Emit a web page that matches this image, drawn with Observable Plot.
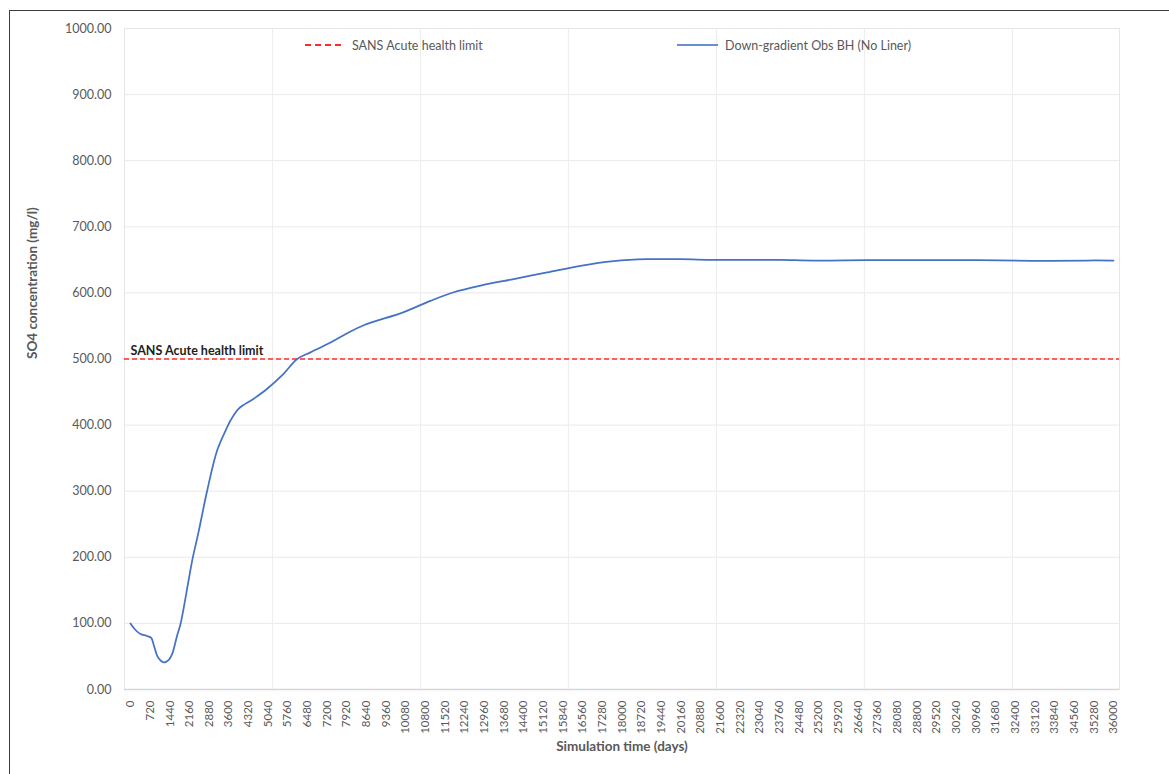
<!DOCTYPE html>
<html>
<head>
<meta charset="utf-8">
<script src="https://cdn.jsdelivr.net/npm/d3@7"></script>
<script src="https://cdn.jsdelivr.net/npm/@observablehq/plot@0.6"></script>
<style>
  html, body { margin: 0; padding: 0; background: #fff; }
  #wrap { position: relative; width: 1169px; height: 774px; overflow: hidden; font-family: Lato, "Open Sans", sans-serif; }
  #border { position: absolute; left: 9px; top: 10px; width: 1200px; height: 800px; border-left: 1.5px solid #3c3c3c; border-top: 1.5px solid #3c3c3c; pointer-events: none; }
  .leg { position: absolute; top: 37px; height: 16px; display: flex; align-items: center; font-size: 12.5px; color: #595959; white-space: nowrap; }
  .leg svg { display: block; }
  .leg span { margin-left: 7px; }
</style>
</head>
<body>
<div id="wrap">
  <div id="chart"></div>
  <div id="border"></div>
  <div id="legend"></div>
</div>
<script>
// ---- Data ----
const seriesName = "Down-gradient Obs BH (No Liner)";
const limitName = "SANS Acute health limit";
const limitValue = 500;

const days = [0, 183, 366, 612, 758, 853, 978, 1099, 1219, 1403, 1527, 1710, 1831, 2135, 2259, 2501, 2809, 3175, 3541, 3662, 3966, 4515, 5006, 5614, 6105, 6592, 7324, 7936, 8543, 10008, 10986, 11839, 12817, 14036, 15260, 16479, 17698, 18922, 20141, 21361, 22500, 23803, 25000, 27000, 29000, 31000, 33000, 35000, 36000];
const so4 = [100, 90, 84, 81, 78, 67, 51, 44, 41, 45, 54, 82, 99, 167, 195, 240, 301, 362, 397, 407, 425, 440, 455, 478, 500, 510, 525, 539, 551, 571, 588, 601, 611, 621, 631, 641, 648, 651, 651, 650, 650, 650, 649, 649.5, 649.5, 649.5, 648.5, 649, 649];

const xTickLabels = d3.range(0, 36001, 720);
const yTickLabels = d3.range(0, 1001, 100);
const vGridDays = [5200, 10620, 16040, 21460, 26880, 32300];

const xTitle = "Simulation time (days)";
const yTitle = "SO4 concentration (mg/l)";

// ---- Build ----
const data = days.map((d, i) => ({day: d, so4: so4[i]}));
const blue = "#4472C4";
const red = "#ff2b2b";

const chart = Plot.plot({
  width: 1169,
  height: 774,
  marginLeft: 124,
  marginRight: 50,
  marginTop: 28,
  marginBottom: 85,
  style: {fontFamily: "Lato, 'Open Sans', sans-serif", color: "#595959", background: "transparent", overflow: "visible"},
  x: {domain: [-220, 36220]},
  y: {domain: [0, 1000]},
  marks: [
    Plot.ruleY(yTickLabels, {stroke: "#e9e9e9", strokeWidth: 1}),
    Plot.ruleX(vGridDays, {stroke: "#efefef", strokeWidth: 1.2}),
    Plot.frame({stroke: "#e6e6e6"}),
    Plot.ruleY([0], {stroke: "#d6d6d6", strokeWidth: 1.5}),
    Plot.axisY({ticks: yTickLabels, tickFormat: d3.format(".2f"), tickSize: 0, tickPadding: 13, fontSize: 12.5, label: null}),
    Plot.axisX({ticks: xTickLabels, tickFormat: d => String(d), tickRotate: -90, tickSize: 0, tickPadding: 11, fontSize: 11.5, label: null}),
    Plot.ruleY([limitValue], {stroke: red, strokeWidth: 1.5, strokeDasharray: "5,3"}),
    Plot.line(data, {x: "day", y: "so4", stroke: blue, strokeWidth: 1.75, curve: "catmull-rom"}),
    Plot.text([{day: days[0], v: limitValue, t: limitName}], {x: "day", y: "v", text: "t", textAnchor: "start", dy: -8, fontWeight: "bold", fontSize: 12.5, fill: "#1e1e1e"}),
    Plot.text([yTitle], {frameAnchor: "left", dx: -92, rotate: -90, text: d => d, fontWeight: "bold", fontSize: 13.5, fill: "#595959"}),
    Plot.text([xTitle], {frameAnchor: "bottom", dy: 61, text: d => d, fontWeight: "bold", fontSize: 13.5, fill: "#595959"})
  ]
});
document.getElementById("chart").appendChild(chart);

// ---- Legend (inside the plot area, top) ----
const legend = document.getElementById("legend");
legend.innerHTML = `
  <div class="leg" style="left:305px">
    <svg width="40" height="6"><line x1="0" y1="3" x2="40" y2="3" stroke="${red}" stroke-width="2" stroke-dasharray="6,4"/></svg>
    <span>${limitName}</span>
  </div>
  <div class="leg" style="left:677px">
    <svg width="41" height="6"><line x1="0" y1="3" x2="41" y2="3" stroke="${blue}" stroke-width="1.8" opacity="0.8"/></svg>
    <span>${seriesName}</span>
  </div>`;
</script>
</body>
</html>
